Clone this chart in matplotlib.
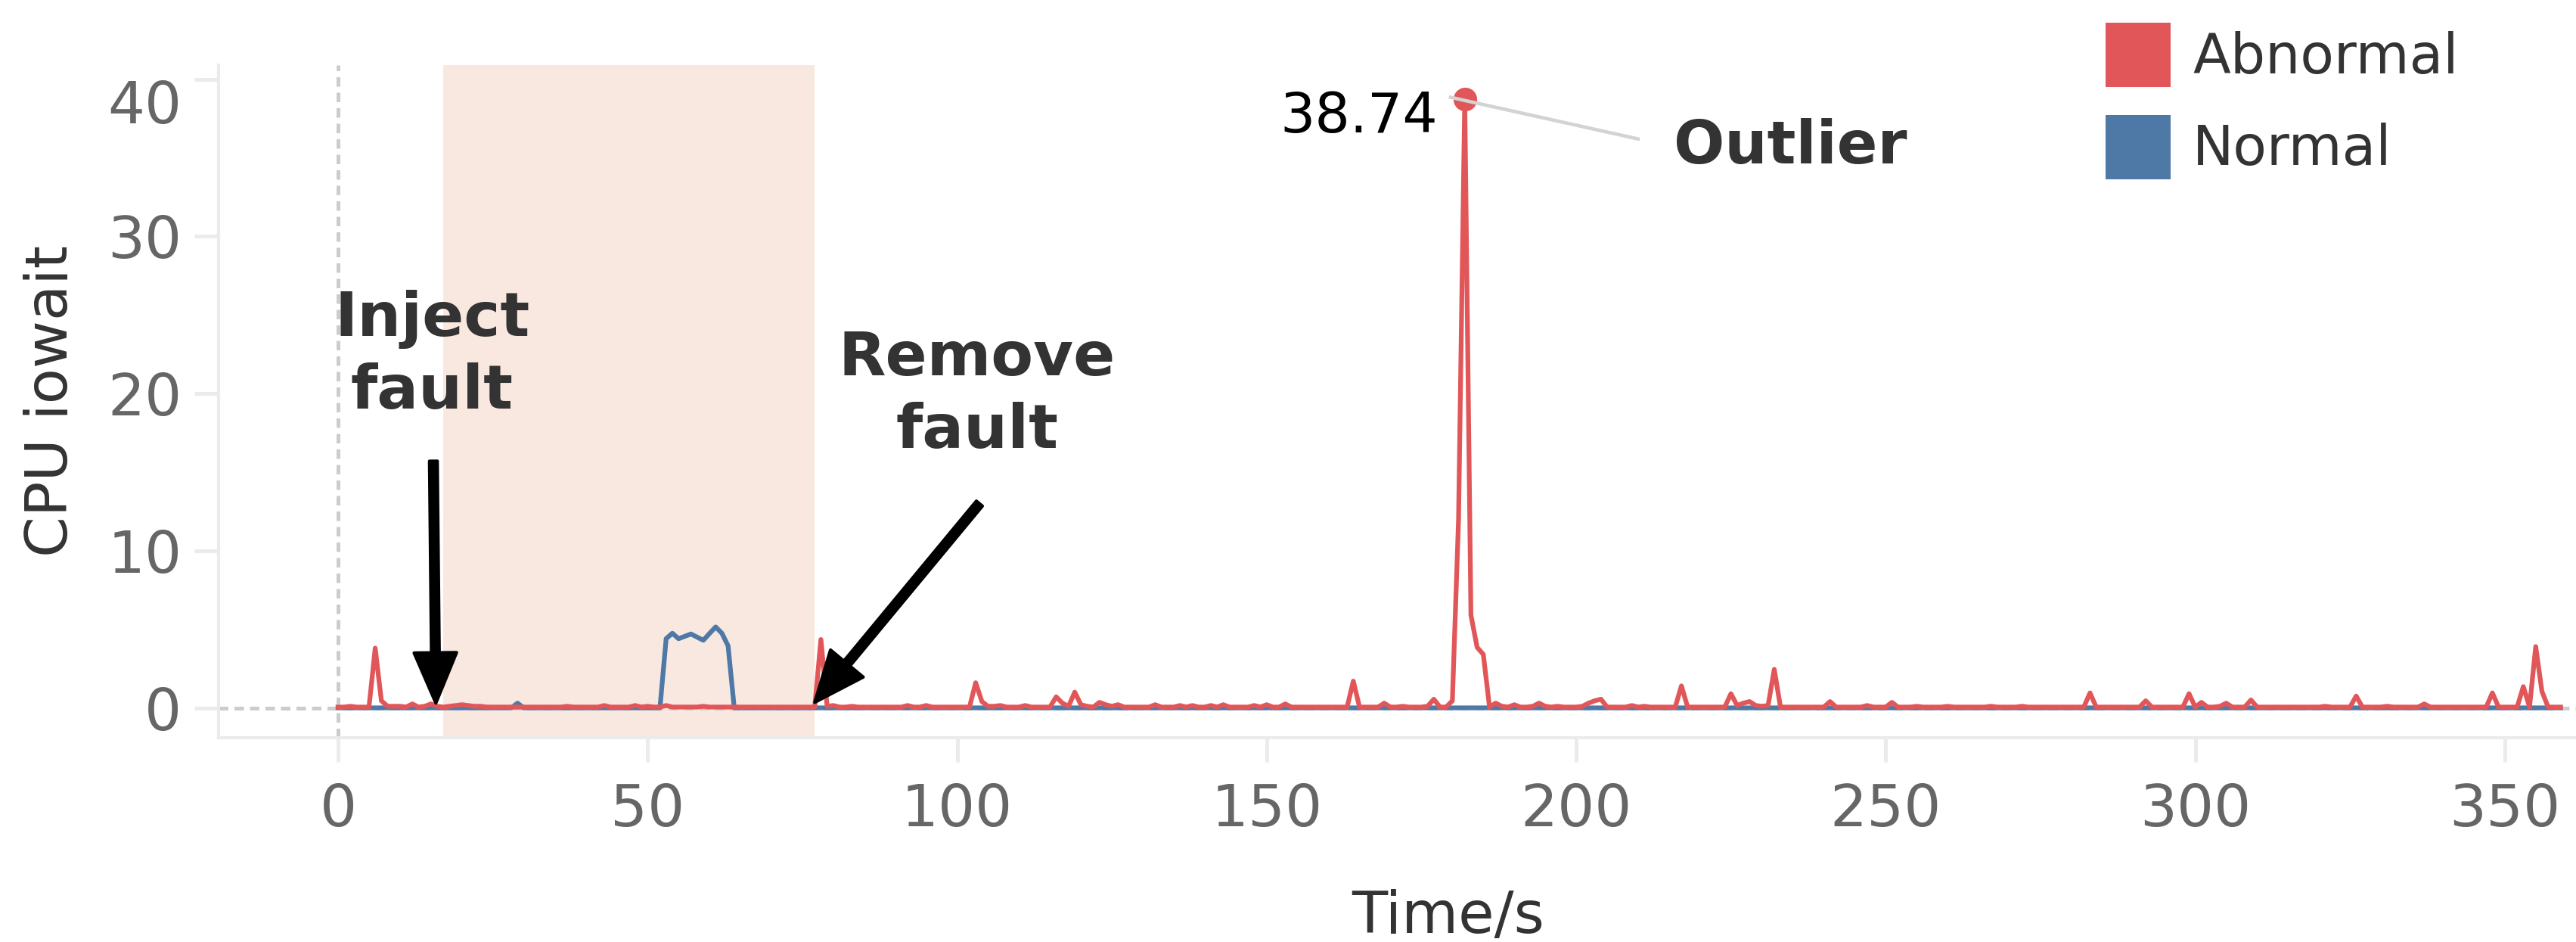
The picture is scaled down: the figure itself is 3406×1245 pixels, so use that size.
"""CPU iowait trace with fault injection window and outlier annotation."""

import numpy as np
import matplotlib.pyplot as plt
from matplotlib.patches import Patch

# Data (one sample per second, t = 0..359)

time_s = list(range(360))

abnormal = [
    0.05, 0.05, 0.1, 0.05, 0.05, 0.05, 3.8, 0.45, 0.1, 0.1,
    0.1, 0.05, 0.25, 0.05, 0.1, 0.25, 0.1, 0.05, 0.1, 0.15,
    0.2, 0.15, 0.1, 0.1, 0.05, 0.05, 0.05, 0.05, 0.05, 0.05,
    0.05, 0.05, 0.05, 0.05, 0.05, 0.05, 0.05, 0.1, 0.05, 0.05,
    0.05, 0.05, 0.05, 0.15, 0.05, 0.05, 0.05, 0.05, 0.15, 0.05,
    0.1, 0.05, 0.05, 0.15, 0.05, 0.05, 0.05, 0.05, 0.05, 0.1,
    0.05, 0.05, 0.05, 0.05, 0.05, 0.05, 0.05, 0.05, 0.05, 0.05,
    0.05, 0.05, 0.05, 0.05, 0.05, 0.05, 0.05, 0.05, 4.35, 0.1,
    0.15, 0.05, 0.05, 0.1, 0.05, 0.05, 0.05, 0.05, 0.05, 0.05,
    0.05, 0.05, 0.15, 0.05, 0.05, 0.15, 0.05, 0.05, 0.05, 0.05,
    0.05, 0.05, 0.05, 1.6, 0.4, 0.1, 0.1, 0.15, 0.05, 0.05,
    0.05, 0.15, 0.05, 0.05, 0.05, 0.05, 0.7, 0.3, 0.1, 1.0,
    0.2, 0.1, 0.05, 0.35, 0.2, 0.1, 0.2, 0.05, 0.05, 0.05,
    0.05, 0.05, 0.2, 0.05, 0.05, 0.05, 0.15, 0.05, 0.15, 0.05,
    0.05, 0.15, 0.05, 0.2, 0.05, 0.05, 0.05, 0.05, 0.15, 0.05,
    0.2, 0.05, 0.05, 0.25, 0.05, 0.05, 0.05, 0.05, 0.05, 0.05,
    0.05, 0.05, 0.05, 0.05, 1.7, 0.05, 0.05, 0.05, 0.05, 0.3,
    0.05, 0.05, 0.1, 0.05, 0.05, 0.05, 0.1, 0.55, 0.05, 0.05,
    0.45, 12.0, 38.74, 5.9, 3.85, 3.4, 0.05, 0.3, 0.1, 0.05,
    0.2, 0.05, 0.05, 0.1, 0.3, 0.1, 0.05, 0.1, 0.05, 0.05,
    0.05, 0.1, 0.3, 0.45, 0.55, 0.05, 0.05, 0.05, 0.05, 0.15,
    0.05, 0.1, 0.05, 0.05, 0.05, 0.05, 0.05, 1.4, 0.05, 0.05,
    0.05, 0.05, 0.05, 0.05, 0.05, 0.9, 0.15, 0.3, 0.4, 0.15,
    0.1, 0.15, 2.45, 0.05, 0.05, 0.05, 0.05, 0.05, 0.05, 0.05,
    0.05, 0.4, 0.05, 0.05, 0.05, 0.05, 0.05, 0.15, 0.05, 0.05,
    0.05, 0.35, 0.05, 0.05, 0.05, 0.1, 0.05, 0.05, 0.05, 0.05,
    0.1, 0.05, 0.05, 0.05, 0.05, 0.05, 0.05, 0.1, 0.05, 0.05,
    0.05, 0.05, 0.1, 0.05, 0.05, 0.05, 0.05, 0.05, 0.05, 0.05,
    0.05, 0.05, 0.05, 0.95, 0.05, 0.05, 0.05, 0.05, 0.05, 0.05,
    0.05, 0.05, 0.45, 0.05, 0.05, 0.05, 0.05, 0.05, 0.05, 0.9,
    0.05, 0.35, 0.05, 0.05, 0.1, 0.3, 0.05, 0.05, 0.05, 0.5,
    0.05, 0.05, 0.05, 0.05, 0.05, 0.05, 0.05, 0.05, 0.05, 0.05,
    0.05, 0.1, 0.05, 0.05, 0.05, 0.05, 0.75, 0.05, 0.05, 0.05,
    0.05, 0.1, 0.05, 0.05, 0.05, 0.05, 0.05, 0.25, 0.05, 0.05,
    0.05, 0.05, 0.05, 0.05, 0.05, 0.05, 0.05, 0.05, 0.95, 0.05,
    0.05, 0.05, 0.05, 1.35, 0.05, 3.9, 1.05, 0.05, 0.05, 0.05,
]

normal = [
    0.0, 0.0, 0.0, 0.0, 0.0, 0.0, 0.0, 0.0, 0.0, 0.0,
    0.0, 0.0, 0.0, 0.0, 0.0, 0.0, 0.0, 0.0, 0.0, 0.0,
    0.0, 0.0, 0.0, 0.0, 0.0, 0.0, 0.0, 0.0, 0.0, 0.3,
    0.0, 0.0, 0.0, 0.0, 0.0, 0.0, 0.0, 0.0, 0.0, 0.0,
    0.0, 0.0, 0.0, 0.0, 0.0, 0.0, 0.0, 0.0, 0.0, 0.0,
    0.0, 0.0, 0.0, 4.4, 4.75, 4.4, 4.55, 4.7, 4.5, 4.3,
    4.73, 5.15, 4.75, 3.95, 0.0, 0.0, 0.0, 0.0, 0.0, 0.0,
] + [0.0] * 290

fault_window = (17, 77)   # fault injected at 17 s, removed at 77 s
outlier_t = 182
outlier_v = 38.74

series_labels = ["Abnormal", "Normal"]
red = "#E15759"
blue = "#4E79A7"

# Figure

fig = plt.figure(figsize=(3406 / 300, 1245 / 300), dpi=300)
ax = fig.add_axes([289 / 3406, 1 - 975 / 1245, (3541 - 289) / 3406, (975 - 86) / 1245])

ax.axvspan(*fault_window, color="#F9E8DF", lw=0, zorder=0)
ax.axhline(0, color="#cccccc", lw=1.2, ls=(0, (2.5, 1.6)), zorder=1)
ax.axvline(0, color="#cccccc", lw=1.2, ls=(0, (2.5, 1.6)), zorder=1)

ax.plot(time_s, normal, color=blue, lw=1.5, zorder=2)
ax.plot(time_s, abnormal, color=red, lw=1.5, zorder=3)
ax.plot(outlier_t, outlier_v, "o", color=red, ms=6.5, zorder=4)

# leader line from outlier to its label
ax.plot([179.7, 210], [38.85, 36.2], color="#d3d3d3", lw=1.1, zorder=5)
ax.text(177.7, 37.6, f"{outlier_v:.2f}", ha="right", va="center",
        fontsize=17.5, color="black")
ax.text(215.8, 35.7, "Outlier", ha="left", va="center",
        fontsize=19, fontweight="bold", color="#333333")

arrow_kw = dict(facecolor="black", edgecolor="black", width=2.5,
                headwidth=13.5, headlength=16, shrink=0)
ax.annotate("", xy=(15.8, 0.3), xytext=(15.4, 15.7), arrowprops=arrow_kw, zorder=6)
ax.annotate("", xy=(77.0, 0.35), xytext=(103.6, 13.0), arrowprops=arrow_kw, zorder=6)
ax.text(15.2, 22.4, "Inject\nfault", ha="center", va="center", fontsize=19.5,
        fontweight="bold", color="#333333", linespacing=1.3)
ax.text(103.2, 19.9, "Remove\nfault", ha="center", va="center", fontsize=19.5,
        fontweight="bold", color="#333333", linespacing=1.3)

ax.set_xlim(-19.3, 378)
ax.set_ylim(-1.9, 40.9)
ax.set_xticks(range(0, 351, 50))
ax.set_yticks(range(0, 41, 10))

for side in ["top", "right"]:
    ax.spines[side].set_visible(False)
for side in ["left", "bottom"]:
    ax.spines[side].set_color("#ebebeb")
    ax.spines[side].set_linewidth(1.0)

ax.tick_params(axis="both", length=7.7, width=1.2, color="#ebebeb",
               labelcolor="#666666", labelsize=18.5)
ax.tick_params(axis="x", pad=6.5)
ax.tick_params(axis="y", pad=4)
# the top y label sits just below its tick in the reference
ax.get_yticklabels()[-1].set_verticalalignment("top")

ax.set_xlabel("Time/s", fontsize=18.5, color="#333333")
ax.set_ylabel("CPU iowait", fontsize=18.5, color="#333333")
ax.xaxis.set_label_coords(0.5, -0.225)
ax.yaxis.set_label_coords(-0.0565, 0.5)

handles = [Patch(facecolor=red, edgecolor="none"), Patch(facecolor=blue, edgecolor="none")]
fig.legend(handles, series_labels, loc="upper left",
           bbox_to_anchor=(2784 / 3406, 1 - 30 / 1245), frameon=False,
           fontsize=17.5, labelcolor="#333333", handlelength=1.18, handleheight=1.42,
           handletextpad=0.4, labelspacing=0.5, borderpad=0, borderaxespad=0)

fig.savefig("out.png", dpi=300)
